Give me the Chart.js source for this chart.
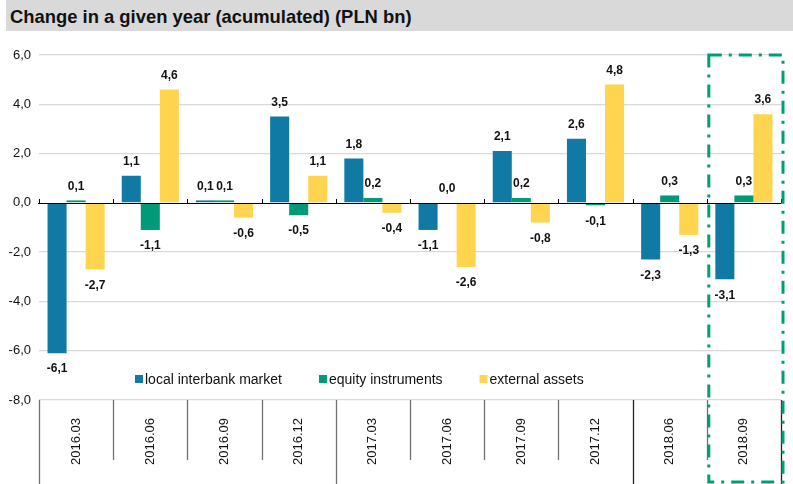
<!DOCTYPE html>
<html>
<head>
<meta charset="utf-8">
<script src="https://cdn.jsdelivr.net/npm/chart.js@4/dist/chart.umd.min.js"></script>
<style>
  body { margin: 0; background: #fff; font-family: Arial, "Liberation Sans", sans-serif; }
  #title {
    position: absolute; left: 6px; top: 0; width: 787px; height: 31px;
    background: #d9d9d9; font-weight: bold; font-size: 18.4px; line-height: 33px;
    padding-left: 4px; box-sizing: border-box; color: #111;
  }
  #wrap { position: absolute; left: 0; top: 31px; width: 793px; height: 453px; }
</style>
</head>
<body>
<div id="title">Change in a given year (acumulated) (PLN bn)</div>
<div id="wrap"><canvas id="chart" width="793" height="453"></canvas></div>
<script>
// categories and series
const quarters = ["2016.03", "2016.06", "2016.09", "2016.12", "2017.03", "2017.06", "2017.09", "2017.12", "2018.06", "2018.09"];
const interbank = [-6.1, 1.1, 0.1, 3.5, 1.8, -1.1, 2.1, 2.6, -2.3, -3.1];
const equity = [0.1, -1.1, 0.1, -0.5, 0.2, 0.0, 0.2, -0.1, 0.3, 0.3];
const external = [-2.7, 4.6, -0.6, 1.1, -0.4, -2.6, -0.8, 4.8, -1.3, 3.6];
const yTicks = { min: -8, max: 6, step: 2 };

const fmt = v => v.toFixed(1).replace(".", ",");

// value labels over/under bars
const valueLabels = {
  id: "valueLabels",
  afterDatasetsDraw(chart) {
    const ctx = chart.ctx;
    ctx.save();
    ctx.font = "bold 12px Arial, 'Liberation Sans'";
    ctx.fillStyle = "#111";
    ctx.textAlign = "center";
    ctx.textBaseline = "middle";
    chart.data.datasets.forEach((ds, i) => {
      chart.getDatasetMeta(i).data.forEach((bar, j) => {
        const v = ds.data[j];
        const y = v >= 0 ? bar.y - 14 : bar.y + 16;
        ctx.fillText(fmt(v), bar.x, y);
      });
    });
    ctx.restore();
  }
};

// zero line, category separators, legend and highlight box
const decorations = {
  id: "decorations",
  afterDatasetsDraw(chart) {
    const ctx = chart.ctx;
    const area = chart.chartArea;
    const ys = chart.scales.y;
    const y0 = ys.getPixelForValue(0);
    const n = quarters.length;
    const w = (area.right - area.left) / n;
    ctx.save();

    // zero line with small ticks
    ctx.strokeStyle = "#000";
    ctx.lineWidth = 1;
    ctx.beginPath();
    ctx.moveTo(area.left - 1, Math.round(y0) + 0.5);
    ctx.lineTo(area.right, Math.round(y0) + 0.5);
    for (let i = 0; i <= n; i++) {
      const x = Math.round(area.left + i * w) + 0.5;
      ctx.moveTo(x, Math.round(y0) + 0.5);
      ctx.lineTo(x, Math.round(y0) - 4);
    }
    ctx.stroke();

    // separators in the category axis
    for (let i = 0; i <= n; i++) {
      const x = Math.round(area.left + i * w) + 0.5;
      const yearChange = i === 0 || i === n || quarters[i].slice(0, 4) !== quarters[i - 1].slice(0, 4);
      ctx.strokeStyle = yearChange && i >= 8 ? "#222" : "#707070";
      ctx.lineWidth = 1.3;
      ctx.beginPath();
      ctx.moveTo(x, area.bottom);
      ctx.lineTo(x, yearChange ? chart.height : area.bottom + 60);
      ctx.stroke();
    }

    // legend inside plot
    ctx.font = "14px Arial, 'Liberation Sans'";
    ctx.textBaseline = "middle";
    ctx.textAlign = "left";
    let lx = 135;
    const ly = 349;
    chart.data.datasets.forEach(ds => {
      ctx.fillStyle = ds.backgroundColor;
      ctx.fillRect(lx, ly - 5, 8, 8);
      ctx.fillStyle = "#111";
      ctx.fillText(ds.label, lx + 10, ly);
      lx += 10 + ctx.measureText(ds.label).width + 37;
    });

    // dash-dot highlight around last category
    const left = area.left + (n - 1) * w + 2;
    ctx.strokeStyle = "rgb(0,158,118)";
    ctx.lineWidth = 3;
    ctx.setLineDash([13, 7, 3, 7]);
    ctx.strokeRect(left, area.top, area.right + 2 - left, chart.height - 2 - area.top);
    ctx.restore();
  }
};

new Chart(document.getElementById("chart").getContext("2d"), {
  type: "bar",
  data: {
    labels: quarters,
    datasets: [
      { label: "local interbank market", data: interbank, backgroundColor: "rgb(16,122,164)" },
      { label: "equity instruments", data: equity, backgroundColor: "rgb(0,154,120)" },
      { label: "external assets", data: external, backgroundColor: "rgb(255,213,80)" },
    ],
  },
  options: {
    responsive: false,
    animation: false,
    layout: { padding: { top: 24, right: 12, left: 0, bottom: 0 } },
    datasets: { bar: { categoryPercentage: 0.77, barPercentage: 1.0, borderWidth: 0 } },
    plugins: {
      legend: { display: false },
      tooltip: { enabled: false },
    },
    scales: {
      x: {
        grid: { display: false },
        border: { display: false },
        ticks: {
          autoSkip: false,
          minRotation: 90,
          maxRotation: 90,
          padding: 10,
          color: "#111",
          font: { family: "Arial, 'Liberation Sans'", size: 13 },
        },
        afterFit(scale) { scale.height = 84; },
      },
      y: {
        min: yTicks.min,
        max: yTicks.max,
        border: { display: false },
        grid: {
          drawTicks: false,
          color: c => (c.tick && c.tick.value === 0 ? "rgba(0,0,0,0)" : "#d9d9d9"),
          lineWidth: 1.3,
        },
        ticks: {
          stepSize: yTicks.step,
          padding: 8,
          color: "#111",
          font: { family: "Arial, 'Liberation Sans'", size: 13 },
          callback: v => fmt(v),
        },
        afterFit(scale) { scale.width = 39; },
      },
    },
  },
  plugins: [valueLabels, decorations],
});
</script>
</body>
</html>
